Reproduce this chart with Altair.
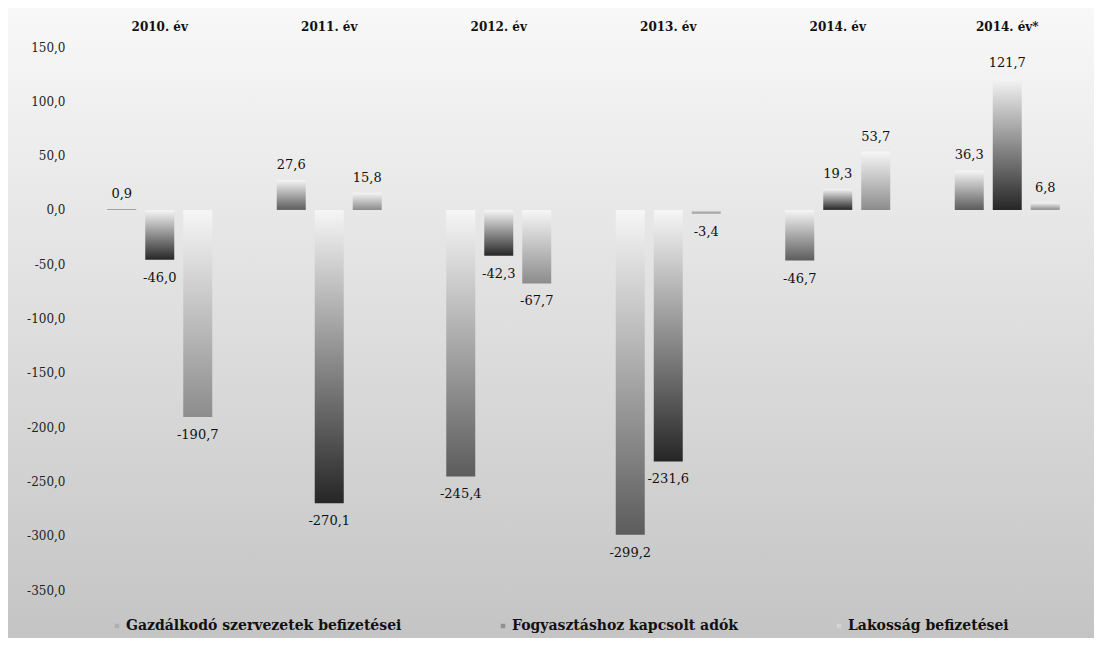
import altair as alt
import pandas as pd

years = ["2010. év", "2011. év", "2012. év", "2013. év", "2014. év", "2014. év*"]
series = ["Gazdálkodó szervezetek befizetései", "Fogyasztáshoz kapcsolt adók", "Lakosság befizetései"]
gazdalkodo = [0.9, 27.6, -245.4, -299.2, -46.7, 36.3]
fogyasztas = [-46.0, -270.1, -42.3, -231.6, 19.3, 121.7]
lakossag = [-190.7, 15.8, -67.7, -3.4, 53.7, 6.8]
y_ticks = [150, 100, 50, 0, -50, -100, -150, -200, -250, -300, -350]

series_values = [gazdalkodo, fogyasztas, lakossag]
bar_colors = ["#5c5c5c", "#262626", "#8c8c8c"]
legend_colors = ["#b0b0b0", "#909090", "#d4d4d4"]

rows = []
for s, vals in zip(series, series_values):
    for y, v in zip(years, vals):
        rows.append({"year": y, "series": s, "value": v,
                     "label": f"{v:.1f}".replace(".", ",")})
df = pd.DataFrame(rows)

W, H = 1017, 543
PL, PT, PR, PB = 67, 39, 2, 48

x_enc = alt.X("year:N", sort=years, scale=alt.Scale(domain=years, paddingInner=0, paddingOuter=0),
              axis=alt.Axis(orient="top", title=None, labelAngle=0, domain=False, ticks=False,
                            labelFont="DejaVu Serif", labelFontWeight="bold", labelFontSize=12,
                            labelColor="#111111", labelPadding=14, zindex=2))
xo_enc = alt.XOffset("series:N", sort=series,
                     scale=alt.Scale(domain=series, paddingInner=0.237, paddingOuter=0.849))
y_enc = alt.Y("value:Q", scale=alt.Scale(domain=[-350, 150], nice=False, zero=False),
              axis=alt.Axis(title=None, values=y_ticks, grid=False, domain=False, ticks=False,
                            labelFont="DejaVu Serif", labelFontSize=12, labelColor="#222222",
                            labelPadding=10, zindex=2,
                            labelExpr="(datum.value < 0 ? '-' : '') + replace(format(abs(datum.value), '.1f'), '.', ',')"))

base = alt.Chart(df)

bg = alt.Chart(pd.DataFrame({"bg": [0]})).mark_rect(
    fill=alt.Gradient(gradient="linear", x1=0, x2=0, y1=0, y2=1,
                      stops=[alt.GradientStop(color="#f8f8f8", offset=0),
                             alt.GradientStop(color="#e6e6e6", offset=0.35),
                             alt.GradientStop(color="#c4c4c4", offset=1)])
).encode(x=alt.value(-PL), x2=alt.value(W + PR), y=alt.value(-PT), y2=alt.value(H + PB))

bar_layers = []
for s, c in zip(series, bar_colors):
    bar_layers.append(
        base.transform_filter(alt.datum.series == s).mark_bar(
            fill=alt.Gradient(gradient="linear", x1=0, x2=0, y1=0, y2=1,
                              stops=[alt.GradientStop(color="#f6f6f6", offset=0),
                                     alt.GradientStop(color=c, offset=1)])
        ).encode(x=x_enc, xOffset=xo_enc, y=y_enc, y2=alt.datum(0))
    )

text_pos = base.transform_filter(alt.datum.value >= 0).mark_text(
    font="DejaVu Serif", fontSize=13, color="#111111", baseline="middle", dy=-15
).encode(x=x_enc, xOffset=xo_enc, y=y_enc, text="label:N")

text_neg = base.transform_filter(alt.datum.value < 0).mark_text(
    font="DejaVu Serif", fontSize=13, color="#111111", baseline="middle", dy=18
).encode(x=x_enc, xOffset=xo_enc, y=y_enc, text="label:N")

legend_layer = base.mark_square(opacity=0, size=20).encode(
    x=x_enc, xOffset=xo_enc, y=y_enc,
    color=alt.Color("series:N", sort=series,
                    scale=alt.Scale(domain=series, range=legend_colors),
                    legend=alt.Legend(title=None, orient="none", legendX=35, legendY=572,
                                      direction="horizontal", columns=3, columnPadding=94,
                                      symbolType="square", symbolSize=20, symbolOpacity=1,
                                      symbolStrokeWidth=0,
                                      labelFont="DejaVu Serif", labelFontWeight="bold",
                                      labelFontSize=14, labelColor="#111111", labelLimit=500,
                                      labelOffset=2, padding=0))
)

chart = alt.layer(bg, *bar_layers, text_pos, text_neg, legend_layer).properties(
    width=W, height=H,
    autosize=alt.AutoSizeParams(type="none"),
    padding={"left": PL, "top": PT, "right": PR, "bottom": PB},
    background="#d8d8d8",
).configure_view(stroke=None)

chart.save("out.html", embed_options={"renderer": "svg", "actions": False})
